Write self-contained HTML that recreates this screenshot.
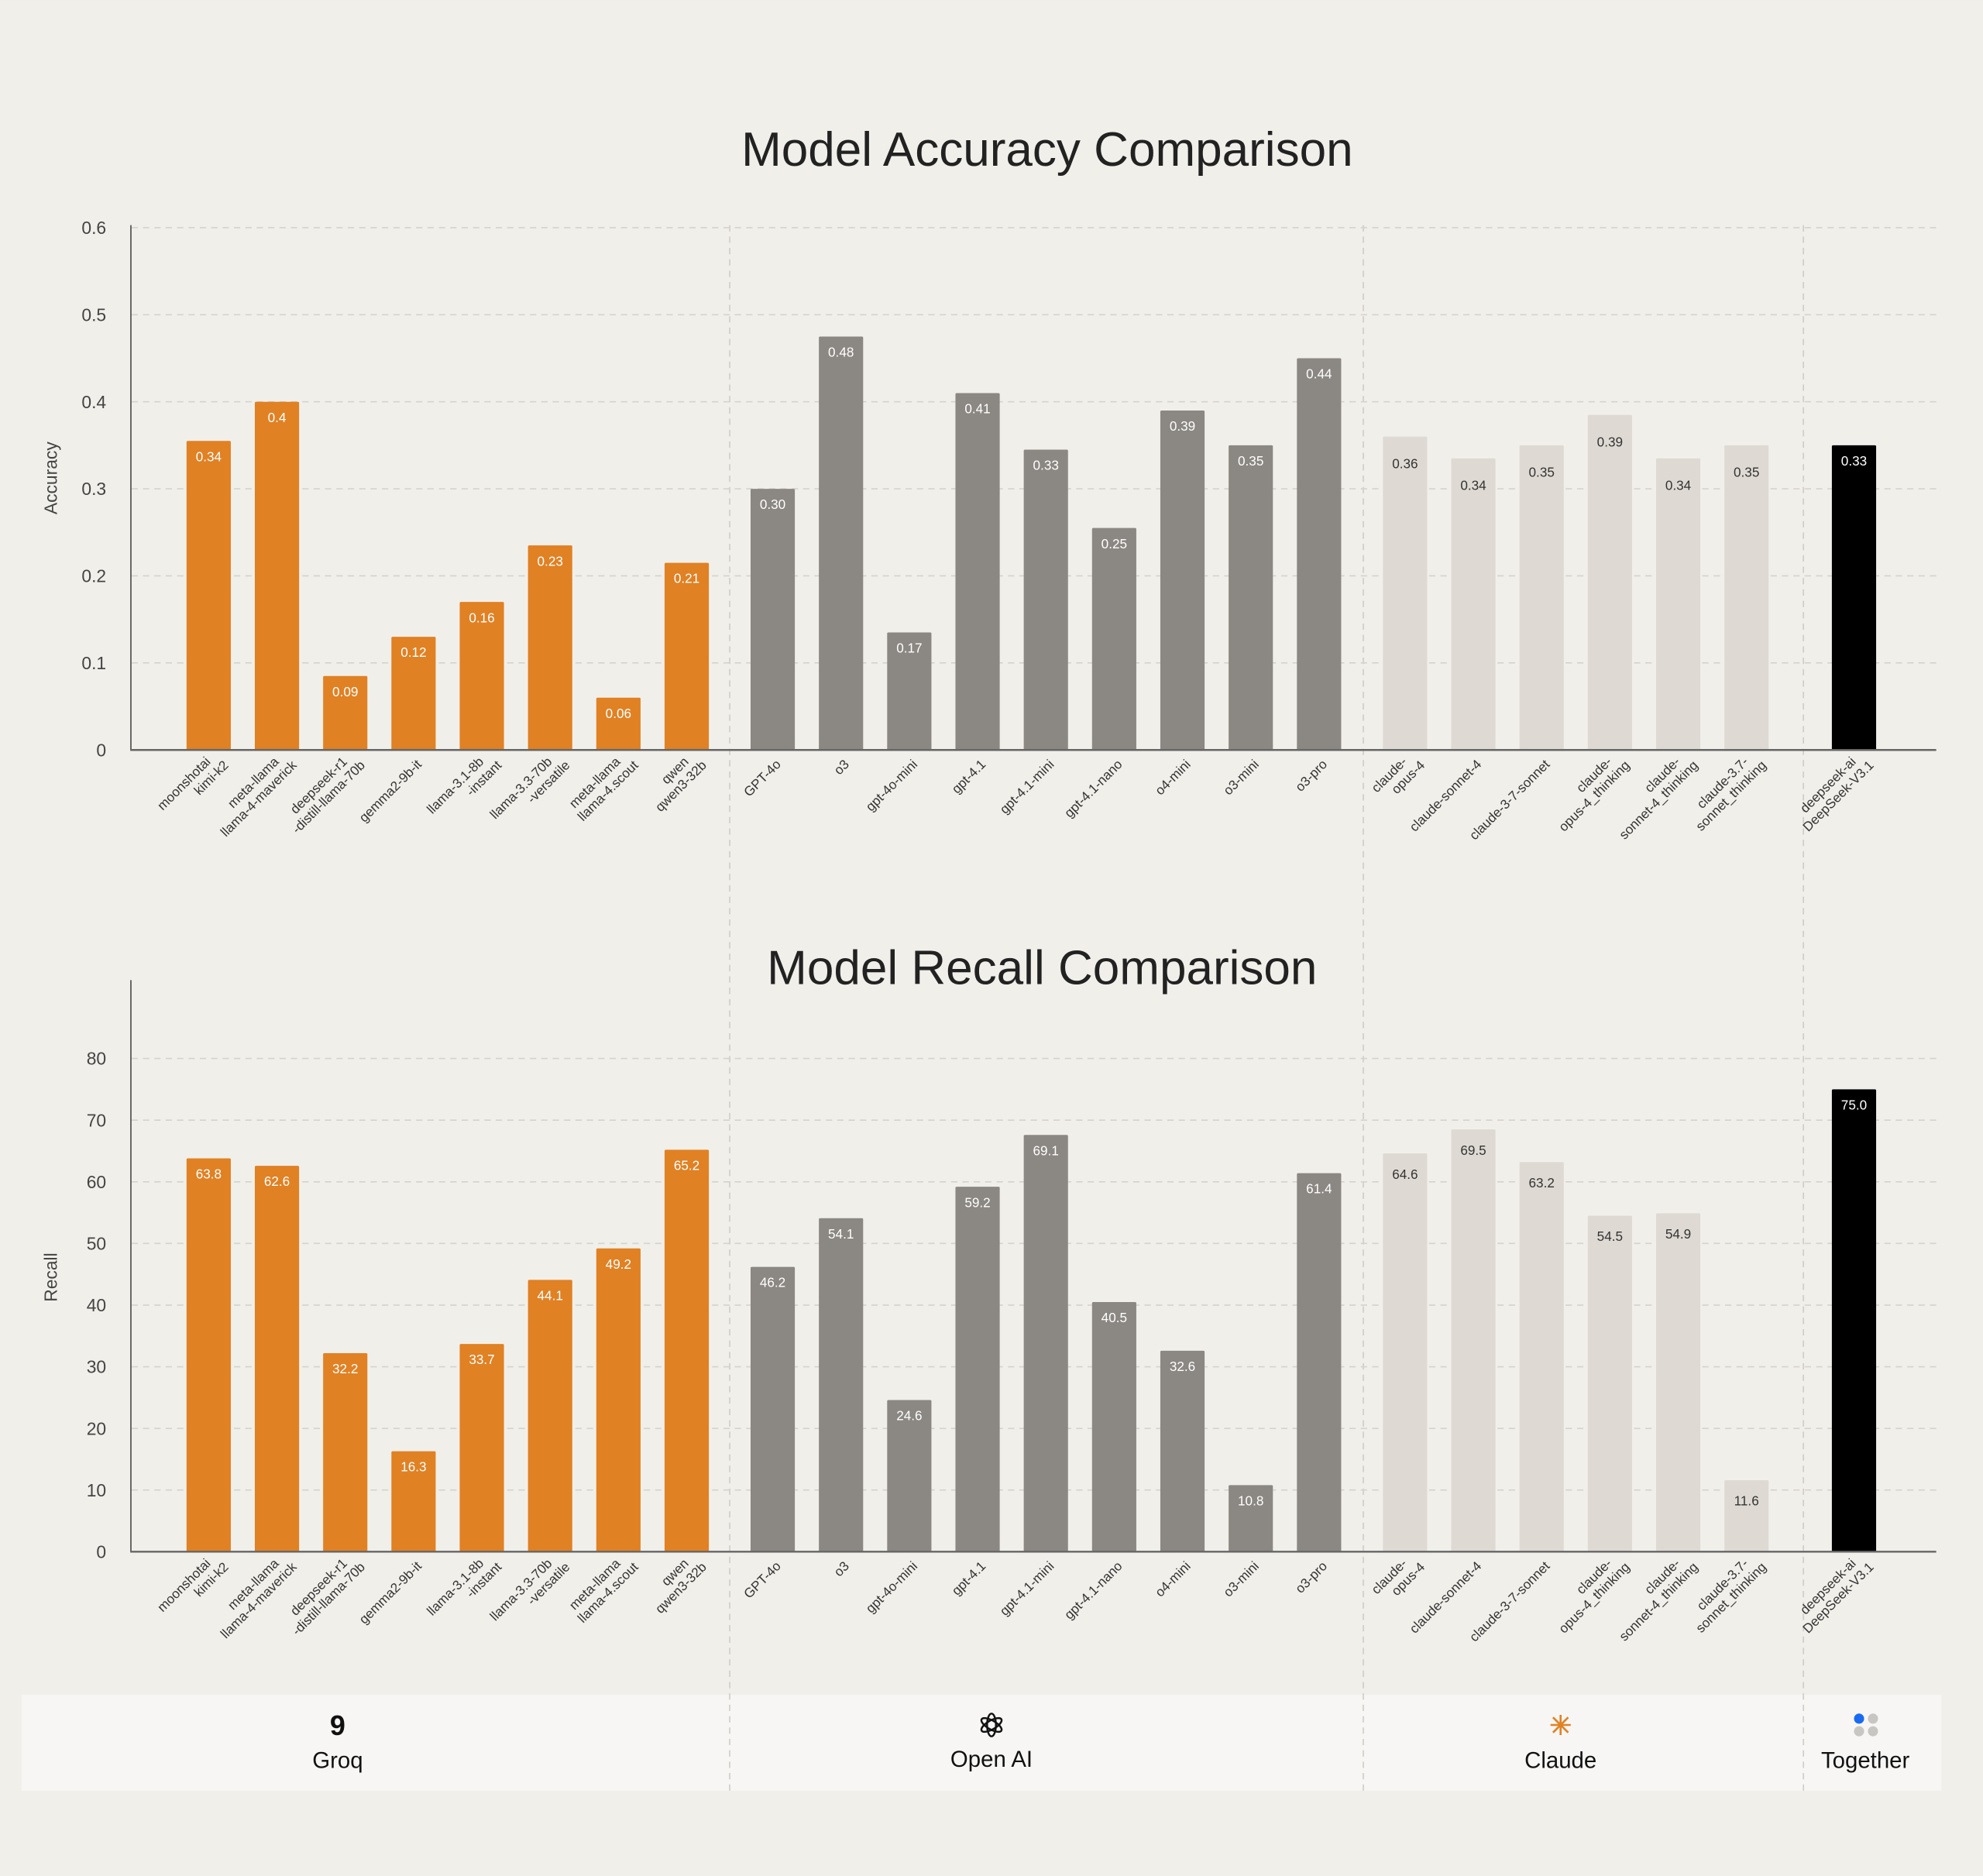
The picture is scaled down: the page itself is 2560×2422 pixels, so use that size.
<!DOCTYPE html>
<html><head><meta charset="utf-8"><style>
html,body{margin:0;padding:0;background:#f1efea;}
svg{display:block;font-family:"Liberation Sans",sans-serif;}
</style></head><body>
<svg id="chart" width="2560" height="2422" viewBox="0 0 1568 1483.4" xmlns="http://www.w3.org/2000/svg">
<rect x="0" y="0" width="1568" height="1484" fill="#f1efea"/>
<rect x="17" y="1340" width="1518" height="76" fill="#f7f6f4"/>
<text x="828" y="131" text-anchor="middle" font-size="38" fill="#222">Model Accuracy Comparison</text>
<text x="824" y="778" text-anchor="middle" font-size="38" fill="#222">Model Recall Comparison</text>
<text transform="translate(45,378) rotate(-90)" text-anchor="middle" font-size="14" fill="#444">Accuracy</text>
<text transform="translate(45,1010) rotate(-90)" text-anchor="middle" font-size="14" fill="#444">Recall</text>
<g id="layer"></g>
<g>
<text x="267" y="1372" text-anchor="middle" font-size="22" font-weight="bold" fill="#111">9</text>
<text x="267" y="1398" text-anchor="middle" font-size="18" fill="#111">Groq</text>
</g>
<g>
<g transform="translate(784,1364)" fill="none" stroke="#111" stroke-width="1.5">
<ellipse rx="3.5" ry="9"/><ellipse rx="3.5" ry="9" transform="rotate(60)"/><ellipse rx="3.5" ry="9" transform="rotate(120)"/>
</g>
<text x="784" y="1397" text-anchor="middle" font-size="18" fill="#111">Open AI</text>
</g>
<g>
<g transform="translate(1234,1364)" stroke="#e08124" stroke-width="1.6">
<line x1="-8" y1="0" x2="8" y2="0"/><line x1="0" y1="-8" x2="0" y2="8"/><line x1="-6" y1="-6" x2="6" y2="6"/><line x1="-6" y1="6" x2="6" y2="-6"/>
</g>
<text x="1234" y="1398" text-anchor="middle" font-size="18" fill="#111">Claude</text>
</g>
<g>
<circle cx="1470" cy="1359" r="4" fill="#1a6bf0"/><circle cx="1481" cy="1359" r="4" fill="#c8c6c3"/>
<circle cx="1470" cy="1369" r="4" fill="#c8c6c3"/><circle cx="1481" cy="1369" r="4" fill="#c8c6c3"/>
<text x="1475" y="1398" text-anchor="middle" font-size="18" fill="#111">Together</text>
</g>
</svg>
<script>
const models = [["moonshotai","kimi-k2"],["meta-llama","llama-4-maverick"],["deepseek-r1","-distill-llama-70b"],["gemma2-9b-it"],["llama-3.1-8b","-instant"],["llama-3.3-70b","-versatile"],["meta-llama","llama-4.scout"],["qwen","qwen3-32b"],
["GPT-4o"],["o3"],["gpt-4o-mini"],["gpt-4.1"],["gpt-4.1-mini"],["gpt-4.1-nano"],["o4-mini"],["o3-mini"],["o3-pro"],
["claude-","opus-4"],["claude-sonnet-4"],["claude-3-7-sonnet"],["claude-","opus-4_thinking"],["claude-","sonnet-4_thinking"],["claude-3.7-","sonnet_thinking"],
["deepseek-ai","DeepSeek-V3.1"]];
const providerOfModel = [0,0,0,0,0,0,0,0,1,1,1,1,1,1,1,1,1,2,2,2,2,2,2,3];
const accuracyValues = [0.355,0.40,0.085,0.13,0.17,0.235,0.06,0.215,0.30,0.475,0.135,0.41,0.345,0.255,0.39,0.35,0.45,0.36,0.335,0.35,0.385,0.335,0.35,0.35];
const accuracyLabels = ["0.34","0.4","0.09","0.12","0.16","0.23","0.06","0.21","0.30","0.48","0.17","0.41","0.33","0.25","0.39","0.35","0.44","0.36","0.34","0.35","0.39","0.34","0.35","0.33"];
const recallValues = [63.8,62.6,32.2,16.3,33.7,44.1,49.2,65.2,46.2,54.1,24.6,59.2,67.6,40.5,32.6,10.8,61.4,64.6,68.5,63.2,54.5,54.9,11.6,75.0];
const recallLabels = ["63.8","62.6","32.2","16.3","33.7","44.1","49.2","65.2","46.2","54.1","24.6","59.2","69.1","40.5","32.6","10.8","61.4","64.6","69.5","63.2","54.5","54.9","11.6","75.0"];
const accuracyTicks = [0,0.1,0.2,0.3,0.4,0.5,0.6];
const accuracyTickLabels = ["0","0.1","0.2","0.3","0.4","0.5","0.6"];
const recallTicks = [0,10,20,30,40,50,60,70,80];
const recallTickLabels = ["0","10","20","30","40","50","60","70","80"];

const NS="http://www.w3.org/2000/svg";
const layer=document.getElementById('layer');
const fills=["#e08124","#8b8782","#dedad3","#000000"];
const textFills=["#ffffff","#ffffff","#333333","#ffffff"];
const groupOffset=[0,14,28,59];
function xPos(i){return 165+54*i+groupOffset[providerOfModel[i]];}
function mk(tag,attrs,parent){const e=document.createElementNS(NS,tag);for(const k in attrs)e.setAttribute(k,attrs[k]);(parent||layer).appendChild(e);return e;}

// separators
[577,1078,1426].forEach(function(x,k){
  const l=mk('line',{x1:x,y1:178,x2:x,y2:1416,stroke:'#d0ccc6','stroke-width':1,'stroke-dasharray':'5,4'});
  
  
});

function drawChart(name,values,labels,ticks,tickLabels,y0,pxPerUnit,axisTop,lightLabelOffset){
  const y=v=>y0-v*pxPerUnit;
  const g=mk('g',{});
  
  
  ticks.forEach(function(t,k){
    if(t>0){
      const gl=mk('line',{x1:104,y1:y(t),x2:1531,y2:y(t),stroke:'#d6d2cc','stroke-width':1,'stroke-dasharray':'5,4'},g);
      
      
    }
    const tl=mk('text',{x:84,y:y(t)+5,'text-anchor':'end','font-size':14,fill:'#444'},g);
    tl.textContent=tickLabels[k];
    
    
  });
  values.forEach(function(v,i){
    const p=providerOfModel[i];const cx=xPos(i);
    const b=mk('rect',{x:cx-17.5,y:y(v),width:35,height:v*pxPerUnit,fill:fills[p],rx:1},g);
    
    
    const off=p===2?lightLabelOffset:16;
    const vl=mk('text',{x:cx,y:y(v)+off,'text-anchor':'middle','font-size':10.5,fill:textFills[p]},g);
    vl.textContent=labels[i];
    
    
    const lines=models[i];
    const xl=mk('text',{transform:'translate('+(cx+7)+','+(y0+12)+') rotate(-45)','text-anchor':'end','font-size':10.5,fill:'#333'},g);
    
    
    lines.forEach(function(s,j){
      const ts=mk('tspan',{x:(lines.length===2?(j===0?-2:6):0),y:(lines.length===2?(j===0?-5:7):0)},xl);
      ts.textContent=s;
    });
  });
  const ax=mk('line',{x1:103.5,y1:axisTop,x2:103.5,y2:y0,stroke:'#666','stroke-width':1.2},g);
  
  
  const bx=mk('line',{x1:103,y1:y0,x2:1531,y2:y0,stroke:'#666','stroke-width':1.5},g);
  
  
}
drawChart('accuracy-chart',accuracyValues,accuracyLabels,accuracyTicks,accuracyTickLabels,593,688.3,178,25);
drawChart('recall-chart',recallValues,recallLabels,recallTicks,recallTickLabels,1227,4.875,775,20);
</script>
</body></html>
